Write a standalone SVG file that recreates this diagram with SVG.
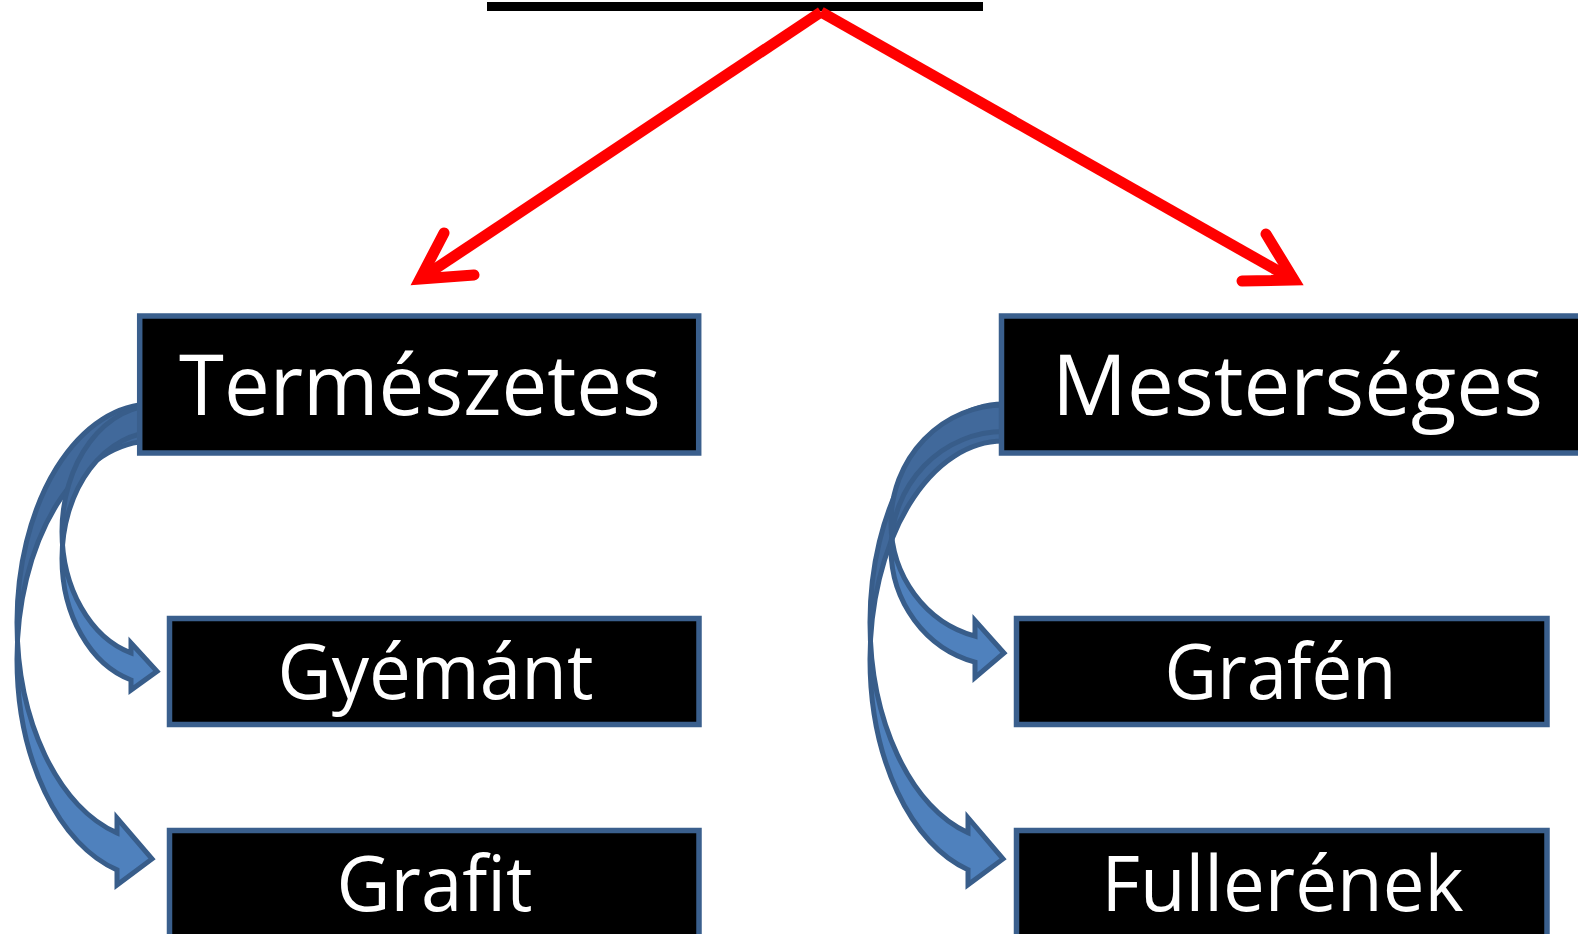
<svg xmlns="http://www.w3.org/2000/svg" width="1578" height="934" viewBox="0 0 1578 934">
<style>
.box{fill:#000;stroke:#3A5F8D;stroke-width:5.5}
.t{fill:#fff;font-family:"Open Sans","Noto Sans",sans-serif;text-anchor:middle}
.big{font-size:84px}
.small{font-size:76px}
.front{fill:#4F81BD;stroke:none}
.back{fill:#41699B;stroke:none}
.ol{fill:none;stroke:#385D8A;stroke-width:5;stroke-linejoin:miter}
.red{fill:none;stroke:#FF0000;stroke-width:11}
.redhead{fill:none;stroke:#FF0000;stroke-width:11;stroke-linecap:round;stroke-linejoin:miter}
</style>
<rect x="0" y="0" width="1578" height="934" fill="#fff"/>
<rect x="487" y="2" width="496" height="9" fill="#000"/>
<g id="connectors">
  <line class="red" x1="821" y1="12" x2="420" y2="279"/>
  <path class="redhead" d="M444,233 L420,279 L474,275"/>
  <line class="red" x1="821" y1="12" x2="1294" y2="280"/>
  <path class="redhead" d="M1266,234 L1294,280 L1242,281"/>

  <g id="arrow-grafit">
    <path class="back" d="M152,441 A135,218.2 0 0 0 17,659.2 L17,622.2 A135,218.2 0 0 1 152,404 Z"/>
    <path class="front" d="M17,622.2 A135,218.2 0 0 0 117,832.9 L117,818 L152,858.9 L117,885 L117,869.9 A135,218.2 0 0 1 17,659.2 Z"/>
    <path class="ol" d="M17,622.2 A135,218.2 0 0 1 152,404 L152,441 A135,218.2 0 0 0 17,659.2 A135,218.2 0 0 0 117,869.9 L117,885 L152,858.9 L117,818 L117,832.9 A135,218.2 0 0 1 17,622.2 Z"/>
  </g>
  <g id="arrow-gyemant">
    <path class="back" d="M157,432 A95,126.4 0 0 0 62,558.4 L62,531.4 A95,126.4 0 0 1 157,405 Z"/>
    <path class="front" d="M62,531.4 A95,126.4 0 0 0 131,653 L131,643 L157,671.3 L131,690 L131,680 A95,126.4 0 0 1 62,558.4 Z"/>
    <path class="ol" d="M62,531.4 A95,126.4 0 0 1 157,405 L157,432 A95,126.4 0 0 0 62,558.4 A95,126.4 0 0 0 131,680 L131,690 L157,671.3 L131,643 L131,653 A95,126.4 0 0 1 62,531.4 Z"/>
  </g>
  <g id="arrow-fullerenek">
    <path class="back" d="M1003,441 A133,218.2 0 0 0 870,659.2 L870,622.2 A133,218.2 0 0 1 1003,404 Z"/>
    <path class="front" d="M870,622.2 A133,218.2 0 0 0 968,832.7 L968,817.7 L1003,858.9 L968,884.7 L968,869.7 A133,218.2 0 0 1 870,659.2 Z"/>
    <path class="ol" d="M870,622.2 A133,218.2 0 0 1 1003,404 L1003,441 A133,218.2 0 0 0 870,659.2 A133,218.2 0 0 0 968,869.7 L968,884.7 L1003,858.9 L968,817.7 L968,832.7 A133,218.2 0 0 1 870,622.2 Z"/>
  </g>
  <g id="arrow-grafen">
    <path class="back" d="M1004,431.5 A113,117.5 0 0 0 891,548.5 L891,522.5 A113,117.5 0 0 1 1004,405 Z"/>
    <path class="front" d="M891,522.5 A113,117.5 0 0 0 975,636.1 L975,620.6 L1004,653 L975,677.6 L975,662.1 A113,117.5 0 0 1 891,548.5 Z"/>
    <path class="ol" d="M891,522.5 A113,117.5 0 0 1 1004,405 L1004,431.5 A113,117.5 0 0 0 891,548.5 A113,117.5 0 0 0 975,662.1 L975,677.6 L1004,653 L975,620.6 L975,636.1 A113,117.5 0 0 1 891,522.5 Z"/>
  </g>
</g>
<g id="termeszetes">
  <rect class="box" x="139.7" y="316" width="559" height="137"/>
  <text class="t big" x="420" y="415" textLength="482" lengthAdjust="spacingAndGlyphs">Természetes</text>
</g>
<g id="mesterseges">
  <rect class="box" x="1001.5" y="316" width="600" height="137"/>
  <text class="t big" x="1297.5" y="415" textLength="491" lengthAdjust="spacingAndGlyphs">Mesterséges</text>
</g>
<g id="gyemant">
  <rect class="box" x="169.5" y="618.5" width="529.5" height="106"/>
  <text class="t small" x="435.5" y="698.5" textLength="316" lengthAdjust="spacingAndGlyphs">Gyémánt</text>
</g>
<g id="grafit">
  <rect class="box" x="169.5" y="830.5" width="529.5" height="107"/>
  <text class="t small" x="434.5" y="910.5" textLength="196" lengthAdjust="spacingAndGlyphs">Grafit</text>
</g>
<g id="grafen">
  <rect class="box" x="1016.5" y="618.5" width="530.5" height="106"/>
  <text class="t small" x="1280.5" y="698.5" textLength="232" lengthAdjust="spacingAndGlyphs">Grafén</text>
</g>
<g id="fullerenek">
  <rect class="box" x="1016.5" y="830.5" width="530.5" height="107"/>
  <text class="t small" x="1282.5" y="910.5" textLength="362" lengthAdjust="spacingAndGlyphs">Fullerének</text>
</g>
</svg>
